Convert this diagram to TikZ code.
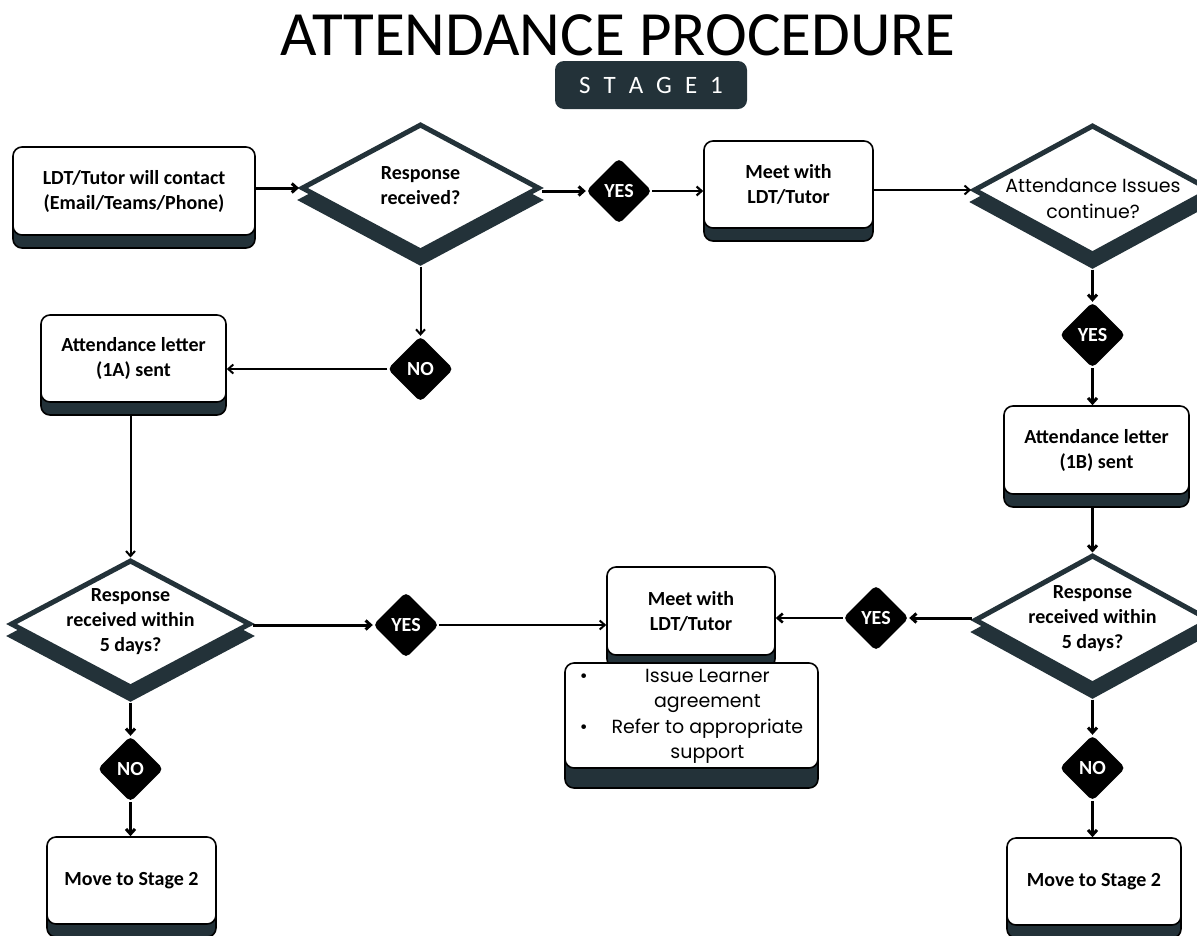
\documentclass[tikz,border=0pt]{standalone}
\usepackage{fontspec}
\setmainfont{Carlito}
\newfontfamily\popfont{Poppins}
\usetikzlibrary{shapes.geometric,arrows.meta,shadows}
\definecolor{slate}{RGB}{35,50,57}
\tikzset{
 box/.style={rectangle, rounded corners=9pt, draw=black, line width=1.6pt, fill=white, align=center,
   font=\fontsize{20}{25}\selectfont\bfseries, inner sep=0pt,
   copy shadow={shadow xshift=0pt, shadow yshift=-13pt, fill=slate, draw=black, line width=1.6pt}},
 bigbox/.style={rectangle, rounded corners=9pt, draw=black, line width=1.6pt, fill=white, align=center,
   inner sep=0pt,
   copy shadow={shadow xshift=0pt, shadow yshift=-20pt, fill=slate, draw=black, line width=1.6pt}},
 dia/.style={diamond, draw=slate, line width=5pt, fill=white, inner sep=0pt,
   copy shadow={shadow xshift=0pt, shadow yshift=-12pt, fill=slate, draw=slate, line width=5pt}},
 yn/.style={diamond, fill=black, rounded corners=5pt, minimum width=66pt, minimum height=66pt,
   inner sep=0pt, text=white, font=\fontsize{20}{24}\selectfont\bfseries},
 dtext/.style={align=center, font=\fontsize{20}{25}\selectfont\bfseries},
 arr/.style={-{Straight Barb[length=5pt,width=9pt]}, line width=3pt},
 tarr/.style={-{Straight Barb[length=5pt,width=9pt]}, line width=2pt},
}
\begin{document}
\begin{tikzpicture}[x=1pt,y=-1pt]
\useasboundingbox[fill=white] (0,0) rectangle (1197,935);

% title
\node[font=\fontsize{63}{70}\selectfont, anchor=base, inner sep=0pt] (title) at (618,55) {ATTENDANCE PROCEDURE};
\node[fill=slate, rounded corners=9pt, minimum width=192pt, minimum height=48pt, inner sep=0pt,
  text=white, font=\fontsize{25}{25}\selectfont] (stage) at (651,85)
  {S\hspace{13pt}T\hspace{13pt}A\hspace{13pt}G\hspace{13pt}E\hspace{13pt}1};

% top row
\node[box, minimum width=242pt, minimum height=88pt] (box1) at (134,191) {LDT/Tutor will contact\\(Email/Teams/Phone)};
\node[dia, minimum width=238pt, minimum height=128pt] (d1) at (420.5,188) {};
\node[dtext] (d1t) at (420.5,186) {Response\\received?};
\node[yn] (yes1) at (619,191) {YES};
\node[box, minimum width=169pt, minimum height=87pt] (meet1) at (788.5,184.5) {Meet with\\LDT/Tutor};
\node[dia, minimum width=238pt, minimum height=130pt] (d2) at (1092.5,190) {};
\node[align=center, font=\popfont\fontsize{19}{26}\selectfont] (d2t) at (1093,199) {Attendance Issues\\continue?};

% right column
\node[yn] (yes2) at (1092.5,335) {YES};
\node[box, minimum width=185pt, minimum height=88pt] (l1b) at (1096.5,450) {Attendance letter\\(1B) sent};
\node[dia, minimum width=236pt, minimum height=130pt] (d3) at (1092.5,620) {};
\node[dtext] (d3t) at (1092.5,619) {Response\\received within\\5 days?};
\node[yn] (yes3) at (876,618) {YES};
\node[yn] (no3) at (1092.5,768) {NO};
\node[box, minimum width=174pt, minimum height=87pt] (move2r) at (1094,881.5) {Move to Stage 2};

% middle
\node[box, minimum width=168pt, minimum height=88pt] (meet2) at (691,611) {Meet with\\LDT/Tutor};
\node[bigbox, minimum width=253pt, minimum height=105pt, font=\popfont\fontsize{19}{25.5}\selectfont] (bul) at (691.5,715.5)
 {\begin{tabular}{@{}l@{\hspace{24pt}}c@{}}
  \textbullet & Issue Learner\\
              & agreement\\
  \textbullet & Refer to appropriate\\
              & support
  \end{tabular}};

% left column
\node[yn] (no1) at (420.5,369) {NO};
\node[box, minimum width=185pt, minimum height=87pt] (l1a) at (133.5,358.5) {Attendance letter\\(1A) sent};
\node[dia, minimum width=240pt, minimum height=128pt] (d4) at (130.5,624) {};
\node[dtext] (d4t) at (130.5,622) {Response\\received within\\5 days?};
\node[yn] (yes4) at (406,625) {YES};
\node[yn] (no4) at (130.5,769) {NO};
\node[box, minimum width=169pt, minimum height=87pt] (move2l) at (131.5,880.5) {Move to Stage 2};

% connectors
\draw[arr] (box1.east |- d1.west) -- (d1.west);
\draw[arr] (d1.east |- yes1.west) -- (yes1.west);
\draw[tarr, line width=2.2pt] (yes1.east) -- (yes1.east -| meet1.west);
\draw[tarr] (meet1.east |- d2.west) -- (d2.west);
\draw[arr] ([yshift=-12pt]d2.south) -- (yes2.north);
\draw[arr] (yes2.south) -- (l1b.north -| yes2.south);
\draw[arr] ([yshift=-13pt]l1b.south -| d3.north) -- (d3.north);
\draw[arr] (d3.west |- yes3.east) -- (yes3.east);
\draw[arr, line width=2.6pt] (yes3.west) -- (yes3.west -| meet2.east);
\draw[arr] ([yshift=-12pt]d3.south) -- (no3.north);
\draw[arr] (no3.south) -- (move2r.north -| no3.south);

\draw[tarr] ([yshift=-12pt]d1.south) -- (no1.north);
\draw[tarr] (no1.west) -- (no1.west -| l1a.east);
\draw[tarr] ([yshift=-13pt]l1a.south -| d4.north) -- (d4.north);
\draw[arr] (d4.east |- yes4.west) -- (yes4.west);
\draw[tarr] (yes4.east) -- (yes4.east -| meet2.west);
\draw[arr] ([yshift=-12pt]d4.south) -- (no4.north);
\draw[arr] (no4.south) -- (move2l.north -| no4.south);
\end{tikzpicture}
\end{document}
